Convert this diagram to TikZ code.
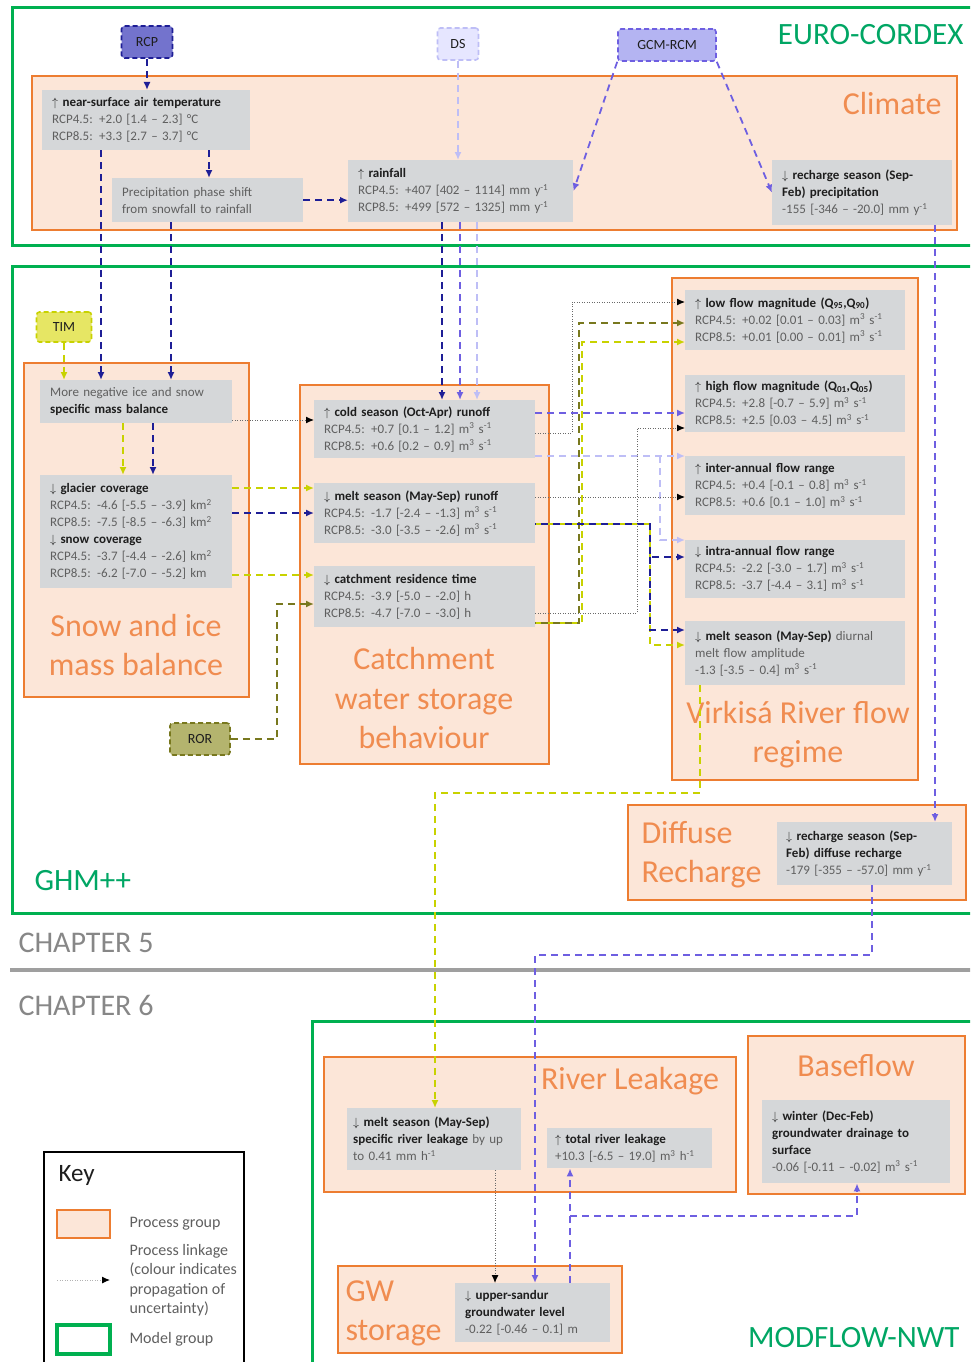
\documentclass[tikz,border=0pt]{standalone}
\usepackage{fontspec}
\setmainfont{Carlito}
\usepackage{tikz}
\usetikzlibrary{arrows.meta}
\tikzset{>={Latex[length=8pt,width=7pt]}}
\definecolor{procorange}{RGB}{237,125,49}
\definecolor{procfill}{RGB}{252,230,216}
\definecolor{proctext}{RGB}{240,140,80}
\definecolor{infogray}{RGB}{213,215,217}
\definecolor{modelgreen}{RGB}{0,176,80}
\definecolor{modeltext}{RGB}{0,166,100}
\definecolor{hdcol}{RGB}{30,30,30}
\definecolor{datacol}{RGB}{95,95,95}
\definecolor{chapgray}{RGB}{135,135,135}
\definecolor{linkgray}{RGB}{105,105,105}
\definecolor{rcpblue}{RGB}{30,30,150}
\definecolor{rcpfill}{RGB}{115,115,205}
\definecolor{gcmblue}{RGB}{110,95,225}
\definecolor{gcmfill}{RGB}{180,180,242}
\definecolor{dslav}{RGB}{190,190,246}
\definecolor{dsfill}{RGB}{230,230,255}
\definecolor{timyel}{RGB}{200,210,0}
\definecolor{timfill}{RGB}{230,230,100}
\definecolor{rorolive}{RGB}{120,120,30}
\definecolor{rorfill}{RGB}{180,180,110}

\newcommand{\hd}[1]{{\bfseries\color{hdcol}#1}}
\newcommand{\upar}{$\uparrow$}
\newcommand{\dnar}{$\downarrow$}
\newcommand{\msq}{m\textsuperscript{3} s\textsuperscript{-1}}
\newcommand{\myr}{mm y\textsuperscript{-1}}

\tikzset{
  modelgroup/.style={draw=modelgreen, line width=3pt},
  procgroup/.style={draw=procorange, fill=procfill, line width=1.5pt},
  info/.style={fill=infogray, anchor=north west, align=left, inner xsep=10pt, inner ysep=2pt, text=datacol, font=\fontsize{13}{17}\selectfont},
  proclabel/.style={text=proctext, align=center, font=\fontsize{32}{39}\selectfont},
  modellabel/.style={text=modeltext, font=\fontsize{31}{37}\selectfont},
  chaplabel/.style={text=chapgray, anchor=west, font=\fontsize{30}{36}\selectfont},
  keylabel/.style={text=datacol, anchor=west, align=left, font=\fontsize{16}{19.5}\selectfont},
  tag/.style={line width=1.6pt, dash pattern=on 5pt off 3pt, rounded corners=3pt, minimum height=32pt, text=hdcol, font=\fontsize{14}{17}\selectfont},
  rcpline/.style={draw=rcpblue, line width=1.8pt, dash pattern=on 7pt off 5pt},
  gcmline/.style={draw=gcmblue, line width=1.8pt, dash pattern=on 7pt off 5pt},
  dsline/.style={draw=dslav, line width=1.8pt, dash pattern=on 7pt off 5pt},
  timline/.style={draw=timyel, line width=1.8pt, dash pattern=on 7pt off 5pt},
  rorline/.style={draw=rorolive, line width=1.8pt, dash pattern=on 7pt off 5pt},
  link/.style={draw=linkgray, line width=1pt, dash pattern=on 1pt off 1.5pt, -{Latex[length=8pt,width=7pt,black]}}
}

\begin{document}
\begin{tikzpicture}[x=1pt,y=-1pt]
\useasboundingbox (0,0) rectangle (970,1362);
\clip (0,0) rectangle (970,1362);

% model groups and chapters
\draw[modelgroup] (12,8) rectangle (985,245);
\draw[modelgroup] (12,266) rectangle (985,913);
\draw[modelgroup] (312,1021) rectangle (985,1375);
\draw[chapgray!80, line width=4pt] (10,970) -- (975,970);
\node[modellabel, anchor=east] (eurolbl) at (967,35) {EURO-CORDEX};
\node[modellabel, anchor=west] (ghmlbl) at (31,881) {GHM++};
\node[modellabel, anchor=east] (modflbl) at (963,1338) {MODFLOW-NWT};
\node[chaplabel] (chapfive) at (15,943) {CHAPTER 5};
\node[chaplabel] (chapsix) at (15,1005) {CHAPTER 6};

% process groups
\draw[procgroup] (32,76) rectangle (957,230);
\draw[procgroup] (24,363) rectangle (249,697);
\draw[procgroup] (300,385) rectangle (549,764);
\draw[procgroup] (672,278) rectangle (918,780);
\draw[procgroup] (628,805) rectangle (966,900);
\draw[procgroup] (324,1057) rectangle (736,1192);
\draw[procgroup] (748,1036) rectangle (965,1194);
\draw[procgroup] (338,1266) rectangle (622,1353);
\node[proclabel, anchor=east] (climlbl) at (945,104) {Climate};
\node[proclabel] (snowlbl) at (136,645) {Snow and ice\\mass balance};
\node[proclabel] (catchlbl) at (424,698) {Catchment\\water storage\\behaviour};
\node[proclabel] (riverlbl) at (798,735) {Virkisá River flow\\regime};
\node[proclabel, anchor=west, align=left] (diflbl) at (638,855) {Diffuse\\Recharge};
\node[proclabel] (leaklbl) at (630,1081) {River Leakage};
\node[proclabel] (baselbl) at (856,1066) {Baseflow};
\node[proclabel, anchor=west, align=left] (gwlbl) at (342,1313) {GW\\storage};

% climate
\node[info, text width=188pt, minimum height=60pt] (temp) at (42,90) {\hd{\upar\ near-surface air temperature}\\RCP4.5: +2.0 [1.4 – 2.3] °C\\RCP8.5: +3.3 [2.7 – 3.7] °C};
\node[info, text width=171pt, minimum height=44pt] (phase) at (112,178) {Precipitation phase shift\\from snowfall to rainfall};
\node[info, text width=205pt, minimum height=62pt] (rain) at (348,160) {\hd{\upar\ rainfall}\\RCP4.5: +407 [402 – 1114] \myr\\RCP8.5: +499 [572 – 1325] \myr};
\node[info, text width=160pt, minimum height=65pt] (rprec) at (772,160) {\hd{\dnar\ recharge season (Sep-}\\\hd{Feb) precipitation}\\-155 [-346 – -20.0] \myr};

% snow and ice
\node[info, text width=172pt, minimum height=43pt] (mb) at (40,380) {More negative ice and snow\\\hd{specific mass balance}};
\node[info, text width=172pt, minimum height=113pt] (glac) at (40,475) {\hd{\dnar\ glacier coverage}\\RCP4.5: -4.6 [-5.5 – -3.9] km\textsuperscript{2}\\RCP8.5: -7.5 [-8.5 – -6.3] km\textsuperscript{2}\\\hd{\dnar\ snow coverage}\\RCP4.5: -3.7 [-4.4 – -2.6] km\textsuperscript{2}\\RCP8.5: -6.2 [-7.0 – -5.2] km};

% catchment
\node[info, text width=201pt, minimum height=58pt] (cold) at (314,400) {\hd{\upar\ cold season (Oct-Apr) runoff}\\RCP4.5: +0.7 [0.1 – 1.2] \msq\\RCP8.5: +0.6 [0.2 – 0.9] \msq};
\node[info, text width=201pt, minimum height=60pt] (melt) at (314,483) {\hd{\dnar\ melt season (May-Sep) runoff}\\RCP4.5: -1.7 [-2.4 – -1.3] \msq\\RCP8.5: -3.0 [-3.5 – -2.6] \msq};
\node[info, text width=201pt, minimum height=61pt] (resid) at (314,566) {\hd{\dnar\ catchment residence time}\\RCP4.5: -3.9 [-5.0 – -2.0] h\\RCP8.5: -4.7 [-7.0 – -3.0] h};

% river flow
\node[info, text width=200pt, minimum height=60pt] (low) at (685,290) {\hd{\upar\ low flow magnitude (Q\textsubscript{95},Q\textsubscript{90})}\\RCP4.5: +0.02 [0.01 – 0.03] \msq\\RCP8.5: +0.01 [0.00 – 0.01] \msq};
\node[info, text width=200pt, minimum height=57pt] (high) at (685,375) {\hd{\upar\ high flow magnitude (Q\textsubscript{01},Q\textsubscript{05})}\\RCP4.5: +2.8 [-0.7 – 5.9] \msq\\RCP8.5: +2.5 [0.03 – 4.5] \msq};
\node[info, text width=200pt, minimum height=59pt] (inter) at (685,456) {\hd{\upar\ inter-annual flow range}\\RCP4.5: +0.4 [-0.1 – 0.8] \msq\\RCP8.5: +0.6 [0.1 – 1.0] \msq};
\node[info, text width=200pt, minimum height=58pt] (intra) at (685,540) {\hd{\dnar\ intra-annual flow range}\\RCP4.5: -2.2 [-3.0 – 1.7] \msq\\RCP8.5: -3.7 [-4.4 – 3.1] \msq};
\node[info, text width=200pt, minimum height=64pt] (diur) at (685,621) {\hd{\dnar\ melt season (May-Sep)} diurnal\\melt flow amplitude\\-1.3 [-3.5 – 0.4] \msq};

% recharge, leakage, baseflow, groundwater
\node[info, text width=157pt, inner xsep=9pt, minimum height=63pt] (dif) at (777,822) {\hd{\dnar\ recharge season (Sep-}\\\hd{Feb) diffuse recharge}\\-179 [-355 – -57.0] \myr};
\node[info, text width=162pt, inner xsep=6pt, minimum height=62pt] (leak) at (347,1108) {\hd{\dnar\ melt season (May-Sep)}\\\hd{specific river leakage} by up\\to 0.41 mm h\textsuperscript{-1}};
\node[info, text width=149pt, inner xsep=8pt, minimum height=40pt] (tot) at (547,1128) {\hd{\upar\ total river leakage}\\+10.3 [-6.5 – 19.0] m\textsuperscript{3} h\textsuperscript{-1}};
\node[info, text width=168pt, minimum height=83pt] (base) at (762,1100) {\hd{\dnar\ winter (Dec-Feb)}\\\hd{groundwater drainage to}\\\hd{surface}\\-0.06 [-0.11 – -0.02] \msq};
\node[info, text width=135pt, minimum height=59pt] (gw) at (455,1283) {\hd{\dnar\ upper-sandur}\\\hd{groundwater level}\\-0.22 [-0.46 – 0.1] m};

% uncertainty sources
\node[tag, draw=rcpblue, fill=rcpfill, minimum width=51pt] (rcp) at (147,42) {RCP};
\node[tag, draw=dslav, fill=dsfill, minimum width=41pt] (ds) at (458,44) {DS};
\node[tag, draw=gcmblue, fill=gcmfill, minimum width=98pt] (gcm) at (667,45) {GCM-RCM};
\node[tag, draw=timyel, fill=timfill, minimum width=55pt, minimum height=30pt] (tim) at (64,327) {TIM};
\node[tag, draw=rorolive, fill=rorfill, minimum width=60pt] (ror) at (200,739) {ROR};

% RCP links
\draw[rcpline,->] (rcp.south) -- (temp.north -| rcp.south);
\draw[rcpline,->] (temp.south -| 209,0) -- (phase.north -| 209,0);
\draw[rcpline,->] (phase.east) -- (phase.east -| rain.west);
\draw[rcpline,->] (temp.south -| 101,0) -- (mb.north -| 101,0);
\draw[rcpline,->] (phase.south -| 171,0) -- (mb.north -| 171,0);
\draw[rcpline,->] (mb.south -| 153,0) -- (glac.north -| 153,0);
\draw[rcpline,->] (glac.east |- 0,513) -- (melt.west |- 0,513);
\draw[rcpline,->] (rain.south -| 442,0) -- (cold.north -| 442,0);

% TIM links
\draw[timline,->] (tim.south) -- (mb.north -| tim.south);
\draw[timline,->] (mb.south -| 123,0) -- (glac.north -| 123,0);
\draw[timline,->] (glac.east |- 0,488) -- (melt.west |- 0,488);
\draw[timline,->] (glac.east |- 0,575) -- (resid.west |- 0,575);
\draw[timline,->] (resid.east |- 0,623) -- (582,623) |- (low.west |- 0,342);
\draw[timline,->] (melt.east |- 0,524) -- (650,524) |- (diur.west |- 0,645);
\draw[timline,->] (diur.south -| 700,0) -- (700,793) -| (leak.north -| 435,0);

% ROR links
\draw[rorline,->] (ror.east) -- (277,739) |- (resid.west |- 0,604);
\draw[rorline,dash phase=6pt,->] (resid.east |- 0,623) -- (579,623) |- (low.west |- 0,323);

% melt runoff to flow ranges
\coordinate (meltsplit) at (650,557);
\draw[rcpline,dash phase=6pt,->] (melt.east |- 0,524) -- (650,524) |- (intra.west |- 0,557);
\draw[rcpline,->] (meltsplit) |- (diur.west |- 0,630);

% GCM-RCM links
\draw[gcmline,->] (gcm.south west) -- (rain.east);
\draw[gcmline,->] (gcm.south east) -- (rprec.west);
\draw[gcmline,->] (rain.south -| 460,0) -- (cold.north -| 460,0);
\draw[gcmline,->] (cold.east |- 0,413) -- (high.west |- 0,413);
\draw[gcmline,->] (rprec.south -| 935,0) -- (dif.north -| 935,0);
\draw[gcmline,->] (dif.south -| 872,0) -- (872,955) -| (gw.north -| 535,0);
\coordinate (gwsplit) at (570,1216);
\draw[gcmline,->] (gw.north -| 570,0) -- (tot.south -| 570,0);
\draw[gcmline,->] (gwsplit) -| (base.south -| 857,0);

% DS links
\coordinate (dssplit) at (660,456);
\draw[dsline,->] (ds.south) -- (rain.north -| ds.south);
\draw[dsline,->] (rain.south -| 477,0) -- (cold.north -| 477,0);
\draw[dsline,->] (cold.east |- 0,456) -- (inter.west |- 0,456);
\draw[dsline,->] (dssplit) |- (intra.west |- 0,540);

% certain links
\draw[link] (mb.east |- 0,420) -- (cold.west |- 0,420);
\draw[link] (cold.east |- 0,433) -- (572,433) |- (low.west |- 0,302);
\draw[link] (melt.east |- 0,497) -- (inter.west |- 0,497);
\draw[link] (resid.east |- 0,613) -- (637,613) |- (high.west |- 0,428);
\draw[link] (leak.south -| 495,0) -- (gw.north -| 495,0);

% key
\draw[black, line width=1.5pt] (44,1152) rectangle (244,1375);
\node[anchor=west, text=hdcol, font=\fontsize{25}{30}\selectfont] (keytitle) at (55,1175) {Key};
\draw[procgroup] (57,1210) rectangle (110,1238);
\node[keylabel] (keyproc) at (126,1224) {Process group};
\coordinate (keya) at (57,1280);
\coordinate (keyb) at (110,1280);
\draw[link, draw=gray!60] (keya) -- (keyb);
\node[keylabel] (keylink) at (126,1280) {Process linkage\\(colour indicates\\propagation of\\uncertainty)};
\draw[modelgroup, line width=4pt] (57,1325) rectangle (110,1354);
\node[keylabel] (keymodel) at (126,1339) {Model group};
\end{tikzpicture}
\end{document}
